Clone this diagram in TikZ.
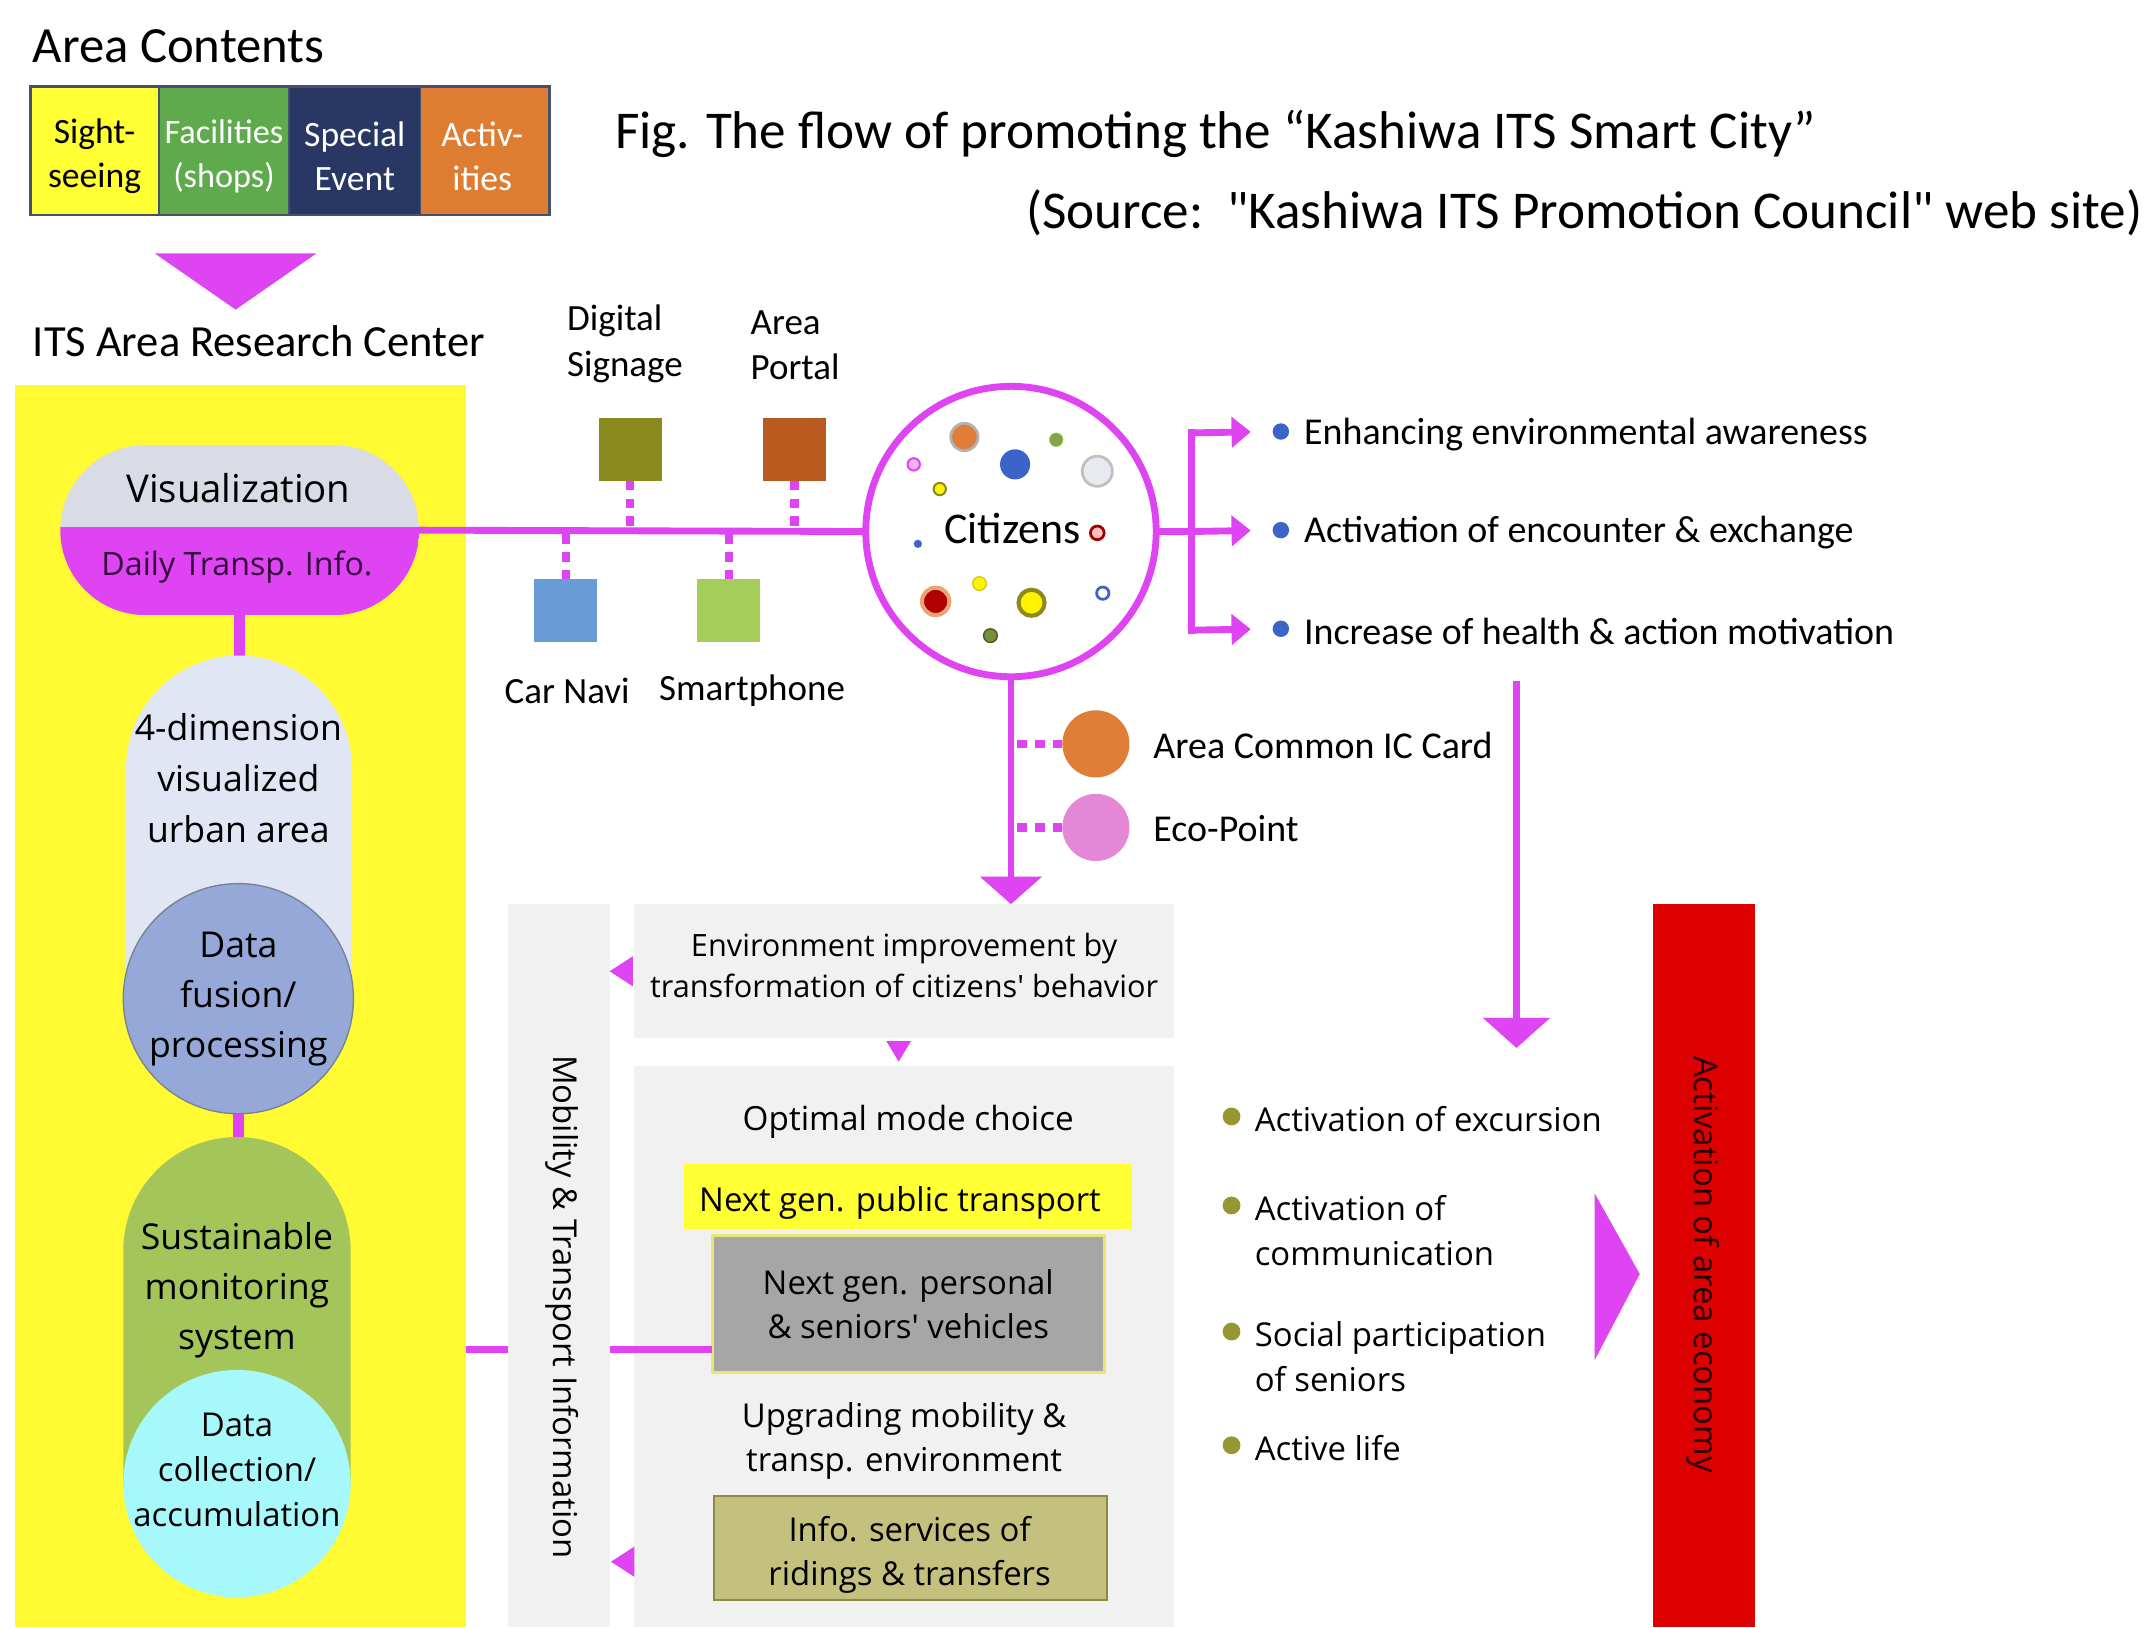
\documentclass[tikz,border=0pt]{standalone}
\usepackage{fontspec}
\setmainfont{Carlito}
\newfontfamily\seg{Open Sans}
\usetikzlibrary{arrows.meta}
\newcommand\fsz[2]{\fontsize{#1pt}{#2pt}\selectfont}
\definecolor{mag}{RGB}{222,68,242}
\definecolor{ypan}{RGB}{255,250,50}
\definecolor{cyel}{RGB}{255,255,51}
\definecolor{cgreen}{RGB}{96,170,78}
\definecolor{cnavy}{RGB}{40,55,100}
\definecolor{corange}{RGB}{222,125,50}
\definecolor{stripb}{RGB}{70,80,105}
\definecolor{vizgray}{RGB}{217,220,228}
\definecolor{vizdark}{RGB}{50,10,60}
\definecolor{dimfill}{RGB}{224,230,243}
\definecolor{fusfill}{RGB}{150,168,216}
\definecolor{fusdraw}{RGB}{120,130,150}
\definecolor{susfill}{RGB}{163,197,90}
\definecolor{collfill}{RGB}{166,248,250}
\definecolor{dsig}{RGB}{138,138,30}
\definecolor{aport}{RGB}{185,90,30}
\definecolor{cnavi}{RGB}{105,155,215}
\definecolor{sphone}{RGB}{165,205,90}
\definecolor{iccol}{RGB}{224,125,55}
\definecolor{ecocol}{RGB}{228,135,215}
\definecolor{pgray}{RGB}{241,241,241}
\definecolor{pvgray}{RGB}{166,166,166}
\definecolor{pvborder}{RGB}{232,232,110}
\definecolor{infofill}{RGB}{196,192,126}
\definecolor{infoborder}{RGB}{140,140,60}
\definecolor{redbar}{RGB}{220,0,0}
\definecolor{bblue}{RGB}{60,100,200}
\definecolor{bolive}{RGB}{150,150,50}
\begin{document}
\begin{tikzpicture}[x=1pt,y=-1pt,
  every node/.style={inner sep=0pt, outer sep=0pt},
  magline/.style={draw=mag, line width=5pt},
  dotline/.style={draw=mag, line width=6pt, dash pattern=on 7pt off 6pt},
  magarrow/.style={magline, -{Triangle[length=14pt,width=22pt]}},
  cell/.style={anchor=north west, minimum height=94pt, draw=stripb, line width=1pt},
  celltxt/.style={align=center, font=\fsz{26}{32}},
  dev/.style={anchor=north west, minimum size=46pt},
  lbl/.style={anchor=west, align=left, font=\fsz{27}{33}},
  cal/.style={font=\fsz{27.7}{32}},
  sg/.style={font=\seg\fsz{24}{32}, align=center},
  bdot/.style={circle, minimum size=12pt},
  panel/.style={fill=pgray, anchor=north west}]
\useasboundingbox (0,0) rectangle (1568,1188);
\fill[white] (0,0) rectangle (1568,1188);

% ---- Area contents
\node[anchor=west, font=\fsz{37}{42}] (areac) at (24,34) {Area Contents};
\node[cell, fill=cyel, minimum width=94pt] (c1) at (22,63) {};
\node[cell, fill=cgreen, minimum width=95pt] (c2) at (116,63) {};
\node[cell, fill=cnavy, minimum width=96pt] (c3) at (211,63) {};
\node[cell, fill=corange, minimum width=94pt] (c4) at (307,63) {};
\node[celltxt] (c1t) at (69,114) {Sight-\\seeing};
\node[celltxt, text=white, font=\fsz{25}{32}] (c2t) at (163.5,114) {Facilities\\(shops)};
\node[celltxt, text=white] (c3t) at (259,114) {Special\\Event};
\node[celltxt, text=white] (c4t) at (352,114) {Activ-\\ities};
\draw[stripb, line width=2pt] (c1.north west) rectangle (c4.south east);
\fill[mag] (113,185) -- (231,185) -- (172,226) -- cycle;
\node[anchor=west, font=\fsz{32.5}{38}] (itsc) at (24,249) {ITS Area Research Center};

% ---- caption
\node[anchor=west, font=\fsz{38.8}{44}] (cap1) at (449,98) {Fig. The flow of promoting the “Kashiwa ITS Smart City”};
\node[anchor=east, font=\fsz{38.8}{44}] (cap2) at (1564,155) {(Source:\ \ \textquotedbl Kashiwa ITS Promotion Council\textquotedbl\ web site)};

% ---- left yellow panel
\node[fill=ypan, anchor=north west, minimum width=329pt, minimum height=907pt] (ypanel) at (11,281) {};

\begin{scope}
\clip[rounded corners=62pt] (44,325) rectangle (306,449);
\fill[vizgray] (44,325) rectangle (306,385);
\fill[mag] (44,385) rectangle (306,449);
\end{scope}
\node[minimum width=262pt, minimum height=124pt] (viz) at (175,387) {};
\node[font=\seg\fsz{28}{32}] (viztxt) at (174,356) {Visualization};
\node[font=\seg\fsz{23.5}{28}, text=vizdark] (daily) at (173,414) {Daily Transp. Info.};

\coordinate (dimtop) at (175,482);
\draw[mag, line width=8pt] (viz.south) -- (dimtop);
\fill[dimfill] (92,735) -- (92,561) arc[start angle=180, end angle=0, radius=82.5pt] -- (257,735) -- cycle;
\node[font=\seg\fsz{26}{37}, align=center] (dimtxt) at (174,568) {4-dimension\\visualized\\urban area};

\node[circle, fill=fusfill, draw=fusdraw, line width=1pt, minimum size=168pt] (fus) at (174,729) {};
\node[font=\seg\fsz{26}{36.5}, align=center] (fustxt) at (174,729) {Data\\fusion/\\processing};

\coordinate (sustop) at (174,834);
\draw[mag, line width=8pt] (fus.south) -- (sustop);
\fill[susfill] (90,1085) -- (90,913) arc[start angle=180, end angle=0, radius=83pt] -- (256,1085) -- cycle;
\node[font=\seg\fsz{26}{36.5}, align=center] (sustxt) at (173,942) {Sustainable\\monitoring\\system};

\node[circle, fill=collfill, minimum size=166pt] (coll) at (173,1083) {};
\node[font=\seg\fsz{24}{32.5}, align=center] (colltxt) at (173,1073) {Data\\collection/\\accumulation};

% ---- devices
\node[dev, fill=dsig] (ds) at (437,305) {};
\node[dev, fill=aport] (ap) at (557,305) {};
\node[dev, fill=cnavi] (cn) at (390,423) {};
\node[dev, fill=sphone] (sp) at (509,423) {};
\node[lbl] (dsl) at (414,251) {Digital\\Signage};
\node[lbl] (apl) at (548,252) {Area\\Portal};
\node[font=\fsz{27}{33}] (cnl) at (414,504) {Car Navi};
\node[font=\fsz{27}{33}] (spl) at (549,504) {Smartphone};

% ---- citizens
\node[circle, draw=mag, line width=5pt, fill=white, minimum size=212pt] (cit) at (738,388) {};
\node[font=\fsz{32}{36}] (citt) at (739,386) {Citizens};
\draw[magline] (viz.east) -- (cit.west);
\draw[dotline] (ds.south) -- (ds.south |- cit.west);
\draw[dotline] (ap.south) -- (ap.south |- cit.west);
\draw[dotline] (cn.north) -- (cn.north |- cit.west);
\draw[dotline] (sp.north) -- (sp.north |- cit.west);

\fill[iccol, draw=gray!60, line width=2pt] (704,319) circle (10pt);
\fill[sphone!80!black, draw=sphone] (771,321) circle (5pt);
\fill[bblue] (741,339) circle (11pt);
\fill[vizgray!60, draw=gray!50, line width=2pt] (801,344) circle (11pt);
\fill[ecocol!60, draw=mag, line width=1.5pt] (667,339) circle (4.5pt);
\fill[yellow, draw=dsig, line width=1.5pt] (686,357) circle (4.5pt);
\fill[pink, draw=red!60!black, line width=2pt] (801,389) circle (5pt);
\fill[bblue] (670,397) circle (3pt);
\fill[red!70!black, draw=iccol!70, line width=3pt] (683,439) circle (10pt);
\fill[yellow, draw=yellow!80!black, line width=1pt] (715,426) circle (5pt);
\fill[yellow, draw=dsig, line width=3pt] (753,440) circle (9.5pt);
\fill[white, draw=bblue, line width=2pt] (805,433) circle (4.5pt);
\fill[sphone!70!black, draw=dsig!60!black, line width=1pt] (723,464) circle (5pt);

% ---- outcomes right of citizens
\coordinate (jt) at (870,316);
\coordinate (jm) at (870,388);
\coordinate (jb) at (870,460);
\draw[magline] (cit.east) -- (jm);
\draw[magline, line cap=rect] (jt) -- (jb);
\node[bdot, fill=bblue] (b1d) at (935,315) {};
\node[bdot, fill=bblue] (b2d) at (935,387) {};
\node[bdot, fill=bblue] (b3d) at (935,459) {};
\node[cal, anchor=west] (b1) at (952,317) {Enhancing environmental awareness};
\node[cal, anchor=west] (b2) at (952,389) {Activation of encounter \& exchange};
\node[cal, anchor=west] (b3) at (952,461) {Increase of health \& action motivation};
\draw[magarrow, shorten >=16pt] (jt) -- (b1d.west);
\draw[magarrow, shorten >=16pt] (jm) -- (b2d.west);
\draw[magarrow, shorten >=16pt] (jb) -- (b3d.west);

% ---- panels
\node[panel, minimum width=74pt, minimum height=528pt] (mob) at (371,660) {};
\node[rotate=-90, font=\seg\fsz{24}{28}] (mobt) at (410,954) {Mobility \& Transport Information};
\node[panel, minimum width=394pt, minimum height=98pt] (env) at (463,660) {};
\node[sg, font=\seg\fsz{22.4}{30}] (envt) at (660,705) {Environment improvement by\\transformation of citizens\textquotesingle\ behavior};
\node[panel, minimum width=394pt, minimum height=410pt] (opt) at (463,778) {};
\node[font=\seg\fsz{24.3}{28}] (optt) at (663,819) {Optimal mode choice};
\node[fill=cyel, anchor=north west, minimum width=327pt, minimum height=47pt] (pub) at (499,850) {};
\node[font=\seg\fsz{24}{28}] (pubt) at (657,878) {Next gen. public transport};
\node[sg, fill=pvgray, draw=pvborder, line width=2pt, anchor=north west, minimum width=286pt, minimum height=100pt] (pv) at (520,902) {Next gen. personal\\\& seniors\textquotesingle\ vehicles};
\node[sg] (upg) at (660,1052) {Upgrading mobility \&\\transp. environment};
\node[fill=infofill, draw=infoborder, line width=1.5pt, anchor=north west, minimum width=287pt, minimum height=76pt] (info) at (521,1092) {};
\node[sg] (infot) at (664,1135) {Info. services of\\ridings \& transfers};

\coordinate (lvl) at (0,985);
\draw[magline] (ypanel.east |- lvl) -- (mob.west |- lvl);
\draw[magline] (mob.east |- lvl) -- (pv.west |- lvl);
\fill[mag] (mob.east |- env.west) -- ++(17,-11) -- ++(0,22) -- cycle;
\coordinate (tri2) at (446,1140);
\fill[mag] (tri2) -- ++(17,-11) -- ++(0,22) -- cycle;
\fill[mag] (647,760) -- (665,760) -- (656,775) -- cycle;

% ---- down arrow and cards
\draw[magline, -{Triangle[length=20pt,width=44pt]}] (cit.south) -- (cit.south |- env.north);
\node[circle, fill=iccol, minimum size=49pt] (ic) at (800,543) {};
\node[circle, fill=ecocol, minimum size=49pt] (eco) at (800,604) {};
\node[cal, anchor=west] (icl) at (842,544) {Area Common IC Card};
\node[cal, anchor=west] (ecol) at (842,605) {Eco-Point};
\draw[dotline] (ic.west) -- (ic.west -| cit.south);
\draw[dotline] (eco.west) -- (eco.west -| cit.south);

% ---- right vertical arrow
\coordinate (vt) at (1107,497);
\coordinate (vb) at (1107,765);
\draw[magline, -{Triangle[length=22pt,width=48pt]}] (vt) -- (vb);

% ---- green bullets
\node[bdot, fill=bolive, minimum size=13pt] (g1d) at (899,815) {};
\node[bdot, fill=bolive, minimum size=13pt] (g2d) at (899,880) {};
\node[bdot, fill=bolive, minimum size=13pt] (g3d) at (899,972) {};
\node[bdot, fill=bolive, minimum size=13pt] (g4d) at (899,1055) {};
\node[anchor=west, font=\seg\fsz{24}{33}] (g1) at (916,817) {Activation of excursion};
\node[anchor=west, align=left, font=\seg\fsz{24}{33}] (g2) at (916,898.5) {Activation of\\communication};
\node[anchor=west, align=left, font=\seg\fsz{24}{33}] (g3) at (916,990.5) {Social participation\\of seniors};
\node[anchor=west, font=\seg\fsz{24}{33}] (g4) at (916,1057) {Active life};

\fill[mag] (1164,871) -- (1197,930) -- (1164,993) -- cycle;
\node[fill=redbar, anchor=north west, minimum width=74pt, minimum height=528pt] (red) at (1207,660) {};
\node[rotate=-90, font=\seg\fsz{24}{28}, text=black!85!red] (redt) at (1243,923) {Activation of area economy};
\end{tikzpicture}
\end{document}
